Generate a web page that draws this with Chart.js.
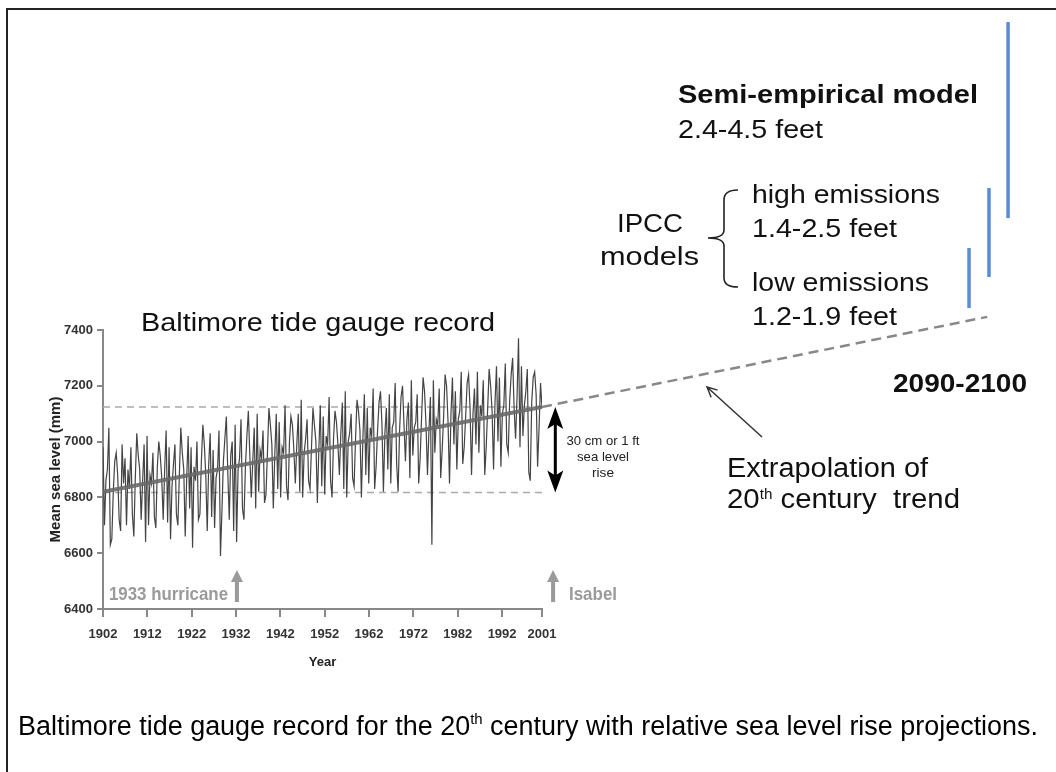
<!DOCTYPE html>
<html>
<head>
<meta charset="utf-8">
<script src="https://cdn.jsdelivr.net/npm/chart.js@4.4.1/dist/chart.umd.min.js"></script>
<style>
html, body { margin: 0; padding: 0; background: #fff; }
#wrap { position: relative; width: 1056px; height: 772px; }
</style>
</head>
<body>
<div id="wrap"><canvas id="seaChart" width="1056" height="772"></canvas></div>
<script>
// axis ticks
const yearTicks = [1902, 1912, 1922, 1932, 1942, 1952, 1962, 1972, 1982, 1992, 2001];
const levelTicks = [6400, 6600, 6800, 7000, 7200, 7400];
const firstYear = 1902;
const lastYear = 2001;

// Baltimore mean sea level (mm), 3 samples a year
const seaLevel = [
  6980,6700,6860, 6900,7050,6630, 6650,6820,6930, 6960,6880,6720, 6680,6990,6850,
  6940,6700,6900, 6830,6980,6740, 6660,6870,7030, 6950,6900,6720, 6860,6990,6640,
  7020,6700,6880, 6850,6960,6730, 6690,6910,7000, 6950,6870,6720, 6900,7040,6710,
  6980,6650,6840, 6920,6990,6740, 6700,6880,7050, 6960,6900,6660, 6870,7020,6760,
  6980,6620,6910, 6860,7000,6720, 6740,6930,7060, 6990,6880,6680, 6920,7030,6730,
  6970,6690,6870, 6900,7040,6590, 6750,6930,7010, 7090,6890,6720, 6950,7000,6680,
  7060,6640,6900, 6940,7080,6760, 6720,6910,7020, 7110,6950,6800, 6930,7050,6760,
  7100,6820,6970, 6940,7040,6780, 6810,6960,7120, 7060,6990,6760, 6950,7100,6830,
  7070,6800,6980, 6960,7130,6840, 6790,7000,7090, 7060,6970,6850, 6990,7100,6820,
  7150,6800,6960, 7010,7080,6860, 6830,6980,7120, 7060,7000,6780, 6970,7130,6840,
  7090,6810,7020, 6990,7160,6860, 6800,7010,7110, 7070,6990,6880, 7030,7140,6830,
  7180,6800,7000, 7030,7100,6870, 6840,7010,7150, 7110,7040,6800, 7010,7170,6880,
  7120,6850,7050, 7020,7190,6830, 6910,7040,7140, 7180,7060,6820, 7030,7120,6900,
  7170,6850,7050, 7070,7210,6920, 6820,7040,7160, 7200,7060,6930, 7080,7140,6870,
  7220,6950,7050, 7070,7170,6850, 6940,7090,7230, 7180,7060,6880, 7040,7160,6630,
  7220,6960,7080, 7060,7190,6870, 6970,7090,7240, 7200,7070,6850, 7100,7230,6990,
  7180,6900,7080, 7110,7250,6920, 6980,7090,7210, 7240,7120,6880, 7100,7190,6990,
  7250,6960,7130, 7090,7220,6880, 6980,7120,7260, 7200,7110,6900, 7140,7270,7000,
  7230,6910,7100, 7130,7280,6990, 6960,7150,7240, 7300,7120,7010, 7160,7370,6980,
  7270,7020,7130, 7180,7260,6890, 6860,7140,7230, 7250,7170,6910, 7050,7210,7120
];

// linear 20th century trend and its extrapolation
const trendYears = [1902, 2001];
const trendLevels = [6820, 7124];
const extrapYears = [2001, 2101.4];
const extrapLevels = [7124, 7447];
const refLevels = [7124, 6818]; // dashed guides: 2001 level and 1902 level

// 2090-2100 projections (bars)
const projYears = [2097.3, 2101.8, 2106.1];
const projLow = [7479, 7590, 7801];
const projHigh = [7694, 7909, 8504];

// marked events
const eventYears = [1932.2, 2003.5];
const eventNames = ['1933 hurricane', 'Isabel'];
const riseYear = 2004;

const FONT = 'Liberation Sans, Arial, sans-serif';

const seriesPts = seaLevel.map((v, i) => ({
  x: firstYear + i * (lastYear - firstYear) / (seaLevel.length - 1),
  y: v
}));

function pts(xs, ys) {
  return xs.map((xv, i) => ({ x: xv, y: ys[i] }));
}

// draw text squeezed/stretched to a given width
function drawFit(ctx, parts, x, y, w, align, color) {
  let total = 0;
  parts.forEach(p => { ctx.font = p.font; p.w = ctx.measureText(p.t).width; total += p.w; });
  const s = w / total;
  ctx.save();
  ctx.fillStyle = color || '#111';
  ctx.textAlign = 'left';
  ctx.textBaseline = 'alphabetic';
  ctx.translate(align === 'center' ? x - w / 2 : x, y);
  ctx.scale(s, 1);
  let cx = 0;
  parts.forEach(p => { ctx.font = p.font; ctx.fillText(p.t, cx, p.dy || 0); cx += p.w; });
  ctx.restore();
}

function upArrow(ctx, px, yTop, yBot, color) {
  ctx.save();
  ctx.fillStyle = color;
  ctx.fillRect(px - 2, yTop + 10, 4, yBot - yTop - 10);
  ctx.beginPath();
  ctx.moveTo(px, yTop);
  ctx.lineTo(px - 6, yTop + 12);
  ctx.lineTo(px + 6, yTop + 12);
  ctx.closePath();
  ctx.fill();
  ctx.restore();
}

const annotations = {
  id: 'annotations',
  afterDraw(chart) {
    const ctx = chart.ctx;
    const xs = chart.scales.x;
    const ys = chart.scales.y;

    // frame
    ctx.save();
    ctx.fillStyle = '#222';
    ctx.fillRect(6, 8, 1050, 2);
    ctx.fillRect(6, 8, 2, 764);
    ctx.restore();

    // 30 cm double arrow
    const ax = xs.getPixelForValue(riseYear);
    const aTop = ys.getPixelForValue(refLevels[0]);
    const aBot = ys.getPixelForValue(refLevels[1]);
    ctx.save();
    ctx.fillStyle = '#000';
    ctx.fillRect(ax - 1.5, aTop + 14, 3, aBot - aTop - 28);
    ctx.beginPath();
    ctx.moveTo(ax, aTop);
    ctx.lineTo(ax - 8, aTop + 22);
    ctx.lineTo(ax, aTop + 17);
    ctx.lineTo(ax + 8, aTop + 22);
    ctx.closePath();
    ctx.fill();
    ctx.beginPath();
    ctx.moveTo(ax, aBot);
    ctx.lineTo(ax - 8, aBot - 22);
    ctx.lineTo(ax, aBot - 17);
    ctx.lineTo(ax + 8, aBot - 22);
    ctx.closePath();
    ctx.fill();
    ctx.restore();
    drawFit(ctx, [{ t: '30 cm or 1 ft', font: '13px ' + FONT }], 603, 445, 73, 'center', '#222');
    drawFit(ctx, [{ t: 'sea level', font: '13px ' + FONT }], 603, 461, 52, 'center', '#222');
    drawFit(ctx, [{ t: 'rise', font: '13px ' + FONT }], 603, 477, 22, 'center', '#222');

    // hurricane markers
    eventYears.forEach(yr => {
      upArrow(ctx, xs.getPixelForValue(yr), ys.getPixelForValue(6540), ys.getPixelForValue(6425), '#9a9a9a');
    });
    drawFit(ctx, [{ t: eventNames[0], font: 'bold 19px ' + FONT }], 109, 600, 119, 'left', '#9a9a9a');
    drawFit(ctx, [{ t: eventNames[1], font: 'bold 19px ' + FONT }], 569, 600, 48, 'left', '#9a9a9a');

    // titles and labels
    drawFit(ctx, [{ t: 'Baltimore tide gauge record', font: '25px ' + FONT }], 141, 331, 354, 'left');
    drawFit(ctx, [{ t: 'Semi-empirical model', font: 'bold 26px ' + FONT }], 678, 103, 300, 'left');
    drawFit(ctx, [{ t: '2.4-4.5 feet', font: '26px ' + FONT }], 678, 138, 145, 'left');
    drawFit(ctx, [{ t: 'IPCC', font: '26px ' + FONT }], 617, 232, 66, 'left');
    drawFit(ctx, [{ t: 'models', font: '26px ' + FONT }], 600, 265, 99, 'left');
    drawFit(ctx, [{ t: 'high emissions', font: '26px ' + FONT }], 752, 203, 188, 'left');
    drawFit(ctx, [{ t: '1.4-2.5 feet', font: '26px ' + FONT }], 752, 237, 145, 'left');
    drawFit(ctx, [{ t: 'low emissions', font: '26px ' + FONT }], 752, 291, 177, 'left');
    drawFit(ctx, [{ t: '1.2-1.9 feet', font: '26px ' + FONT }], 752, 325, 145, 'left');
    drawFit(ctx, [{ t: '2090-2100', font: 'bold 26px ' + FONT }], 893, 392, 134, 'left');
    drawFit(ctx, [{ t: 'Extrapolation of', font: '27px ' + FONT }], 727, 477, 201, 'left');
    drawFit(ctx, [
      { t: '20', font: '27px ' + FONT },
      { t: 'th', font: '14px ' + FONT, dy: -9 },
      { t: ' century  trend', font: '27px ' + FONT }
    ], 727, 508, 233, 'left');
    drawFit(ctx, [
      { t: 'Baltimore tide gauge record for the 20', font: '27px ' + FONT },
      { t: 'th', font: '15px ' + FONT, dy: -11 },
      { t: ' century with relative sea level rise projections.', font: '27px ' + FONT }
    ], 18, 735, 1020, 'left', '#000');

    // brace for IPCC models
    ctx.save();
    ctx.strokeStyle = '#222';
    ctx.lineWidth = 1.6;
    ctx.beginPath();
    ctx.moveTo(738, 190);
    ctx.quadraticCurveTo(724, 190, 724, 200);
    ctx.lineTo(724, 230);
    ctx.quadraticCurveTo(724, 238, 708, 238);
    ctx.quadraticCurveTo(724, 238, 724, 246);
    ctx.lineTo(724, 278);
    ctx.quadraticCurveTo(724, 287, 738, 287);
    ctx.stroke();
    ctx.restore();

    // pointer to the extrapolation line
    ctx.save();
    ctx.strokeStyle = '#333';
    ctx.lineWidth = 1.5;
    const sx = 762, sy = 437, tx = 707, ty = 387;
    const ang = Math.atan2(ty - sy, tx - sx);
    ctx.beginPath();
    ctx.moveTo(sx, sy);
    ctx.lineTo(tx, ty);
    ctx.moveTo(tx - 11 * Math.cos(ang - 0.45), ty - 11 * Math.sin(ang - 0.45));
    ctx.lineTo(tx, ty);
    ctx.lineTo(tx - 11 * Math.cos(ang + 0.45), ty - 11 * Math.sin(ang + 0.45));
    ctx.stroke();
    ctx.restore();
  }
};

const projColors = ['#5b8bd3', '#5b8bd3', '#5b8bd3'];
const projSets = projYears.map((yr, i) => ({
  data: [{ x: yr, y: projLow[i] }, { x: yr, y: projHigh[i] }],
  borderColor: projColors[i],
  borderWidth: 3.5,
  pointRadius: 0,
  clip: false
}));

new Chart(document.getElementById('seaChart'), {
  type: 'line',
  data: {
    datasets: [
      {
        data: pts(trendYears, trendLevels),
        borderColor: 'rgba(105,105,105,0.9)',
        borderWidth: 4,
        pointRadius: 0
      },
      {
        data: seriesPts,
        borderColor: '#444444',
        borderWidth: 1.2,
        pointRadius: 0
      },
      {
        data: pts(trendYears, [refLevels[0], refLevels[0]]),
        borderColor: '#aaaaaa',
        borderWidth: 1.5,
        borderDash: [7, 5],
        pointRadius: 0
      },
      {
        data: pts(trendYears, [refLevels[1], refLevels[1]]),
        borderColor: '#aaaaaa',
        borderWidth: 1.5,
        borderDash: [7, 5],
        pointRadius: 0
      },
      {
        data: pts(extrapYears, extrapLevels),
        borderColor: '#888888',
        borderWidth: 2.5,
        borderDash: [10, 6],
        pointRadius: 0,
        clip: false
      },
      ...projSets
    ]
  },
  options: {
    responsive: false,
    animation: false,
    layout: { padding: { left: 43, top: 330, right: 514, bottom: 98 } },
    scales: {
      x: {
        type: 'linear',
        min: firstYear,
        max: lastYear,
        afterBuildTicks: s => { s.ticks = yearTicks.map(v => ({ value: v })); },
        afterFit: s => { s.height = 65; },
        ticks: {
          callback: v => String(v),
          font: { family: FONT, size: 13, weight: 'bold' },
          color: '#333',
          padding: 10,
          maxRotation: 0,
          autoSkip: false
        },
        grid: { drawOnChartArea: false, drawTicks: true, tickLength: 8, color: '#888', lineWidth: 2 },
        border: { display: true, color: '#888', width: 2 },
        title: { display: true, text: 'Year', font: { family: FONT, size: 13, weight: 'bold' }, color: '#222' }
      },
      y: {
        type: 'linear',
        min: 6400,
        max: 7400,
        afterBuildTicks: s => { s.ticks = levelTicks.map(v => ({ value: v })); },
        afterFit: s => { s.width = 60; },
        ticks: {
          callback: v => String(v),
          font: { family: FONT, size: 13, weight: 'bold' },
          color: '#333',
          padding: 4
        },
        grid: { drawOnChartArea: false, drawTicks: true, tickLength: 6, color: '#888', lineWidth: 2 },
        border: { display: true, color: '#888', width: 2 },
        title: { display: true, text: 'Mean sea level (mm)', font: { family: FONT, size: 15, weight: 'bold' }, color: '#222' }
      }
    },
    plugins: {
      legend: { display: false },
      tooltip: { enabled: false }
    }
  },
  plugins: [annotations]
});
</script>
</body>
</html>
